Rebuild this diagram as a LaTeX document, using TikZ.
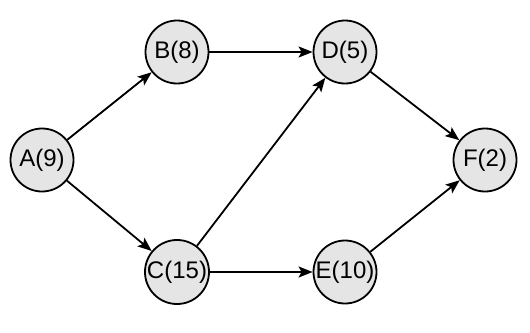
\documentclass[tikz,border=0pt]{standalone}
\usepackage{fontspec}
\setmainfont{Liberation Sans}
\usetikzlibrary{arrows.meta}
\begin{document}
\begin{tikzpicture}[x=1pt,y=-1pt,
  task/.style={circle,draw=black,line width=1.8pt,fill=black!10,minimum size=63pt,inner sep=0pt,font=\fontsize{24}{27}\selectfont},
  link/.style={line width=1.8pt,-{Stealth[length=14pt,width=11pt,inset=3pt]}}]
\useasboundingbox (0,0) rectangle (530,332);
\node[task] (A) at (42,160) {A(9)};
\node[task] (B) at (177,52) {B(8)};
\node[task] (C) at (177,272) {C(15)};
\node[task] (D) at (345,52) {D(5)};
\node[task] (E) at (345,272) {E(10)};
\node[task] (F) at (485,160) {F(2)};
\draw[link] (A) -- (B);
\draw[link] (A) -- (C);
\draw[link] (B) -- (D);
\draw[link] (C) -- (D);
\draw[link] (C) -- (E);
\draw[link] (D) -- (F);
\draw[link] (E) -- (F);
\end{tikzpicture}
\end{document}
